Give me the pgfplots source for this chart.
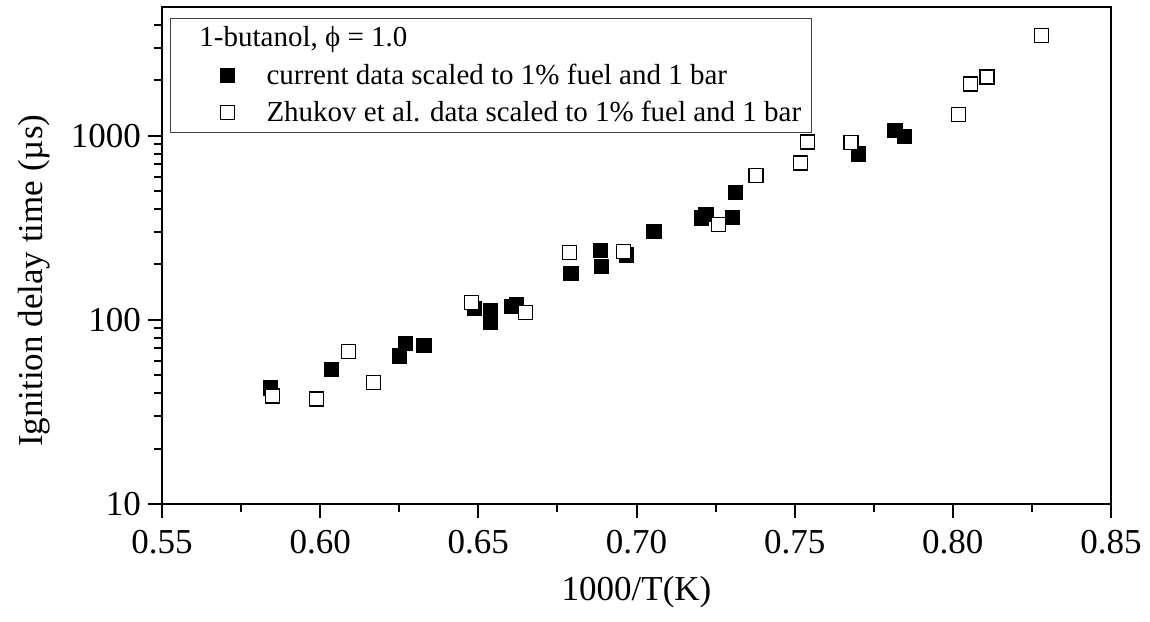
\documentclass[border=0pt]{standalone}
\usepackage{fontspec}
\setmainfont{Liberation Serif}
\usepackage{pgfplots}
\pgfplotsset{compat=1.18}
\pgfplotsset{
  sqlegend/.style={legend image code/.code={\path (0pt,0pt) (42.5pt,0pt);
      \draw[##1] plot coordinates {(25.3pt,0pt)};}},
}

\begin{document}
\begin{tikzpicture}
  \begin{semilogyaxis}[
      name=ax,
      scale only axis,
      width=474.5pt, height=248.5pt,
      xmin=0.55, xmax=0.85,
      ymin=10, ymax=5000,
      xtick={0.55,0.60,0.65,0.70,0.75,0.80,0.85},
      xticklabels={0.55,0.60,0.65,0.70,0.75,0.80,0.85},
      minor xtick={0.575,0.625,0.675,0.725,0.775,0.825},
      ytick={10,100,1000},
      yticklabels={10,100,1000},
      minor ytick={20,30,40,50,60,70,80,90,200,300,400,500,600,700,800,900,2000,3000,4000},
      xtick pos=bottom, ytick pos=left,
      tick align=outside,
      major tick length=7pt, minor tick length=4pt,
      tick style={black, line width=1pt},
      axis line style={line width=1pt},
      tick label style={font=\fontsize{17.5}{20}\selectfont},
      xticklabel style={yshift=-2.5pt},
      label style={font=\fontsize{17.5}{20}\selectfont},
      xlabel={1000/T(K)},
      ylabel={Ignition delay time (µs)},
      xlabel style={at={(axis description cs:0.5,-0.177)}, anchor=center},
      ylabel style={at={(axis description cs:-0.135,0.449)}, anchor=center},
      legend cell align=left,
      legend style={at={(axis description cs:0,1)}, anchor=north west,
        xshift=4pt, yshift=-5.5pt, draw=black!75, line width=0.5pt,
        row sep=3pt,
        font=\fontsize{14.5}{17}\selectfont},
    ]
    \addlegendimage{empty legend}
    \addlegendentry{\hspace{-33.5pt}1-butanol, ϕ = 1.0}

    % current data
    \addplot[only marks, mark=square*, mark size=3.5pt,
      mark options={fill=black, draw=black, line width=0.6pt},
      sqlegend] coordinates {
      (0.5843,42.6) (0.6037,53.5) (0.6250,63.7) (0.6269,74.1) (0.6328,72.5)
      (0.6489,114.8) (0.6539,112.3) (0.6539,97.2) (0.6605,118) (0.6620,120.6)
      (0.6793,179) (0.6887,238) (0.6890,195) (0.6968,225) (0.7055,301)
      (0.7205,357) (0.7220,372) (0.7303,360) (0.7313,490) (0.7702,795)
      (0.7817,1069) (0.7848,991)
    };
    \addlegendentry{current data scaled to 1\% fuel and 1 bar}

    % Zhukov et al.
    \addplot[only marks, mark=square*, mark size=3.5pt,
      mark options={fill=white, draw=black, line width=0.6pt},
      sqlegend] coordinates {
      (0.5850,38.6) (0.5989,37.2) (0.6090,67.3) (0.6169,45.8) (0.6478,124.8)
      (0.6649,110) (0.6789,233) (0.6958,236) (0.7259,328) (0.7378,606)
      (0.7518,711) (0.7540,924) (0.7678,920) (0.8018,1300) (0.8057,1910)
      (0.8108,2084) (0.8280,3493)
    };
    \addlegendentry{Zhukov et al. data scaled to 1\% fuel and 1 bar}
  \end{semilogyaxis}
  \pgfresetboundingbox
  \path[use as bounding box] ([xshift=-81pt,yshift=-58.5pt]ax.south west)
    rectangle ([xshift=19.5pt,yshift=3.5pt]ax.north east);
\end{tikzpicture}
\end{document}
